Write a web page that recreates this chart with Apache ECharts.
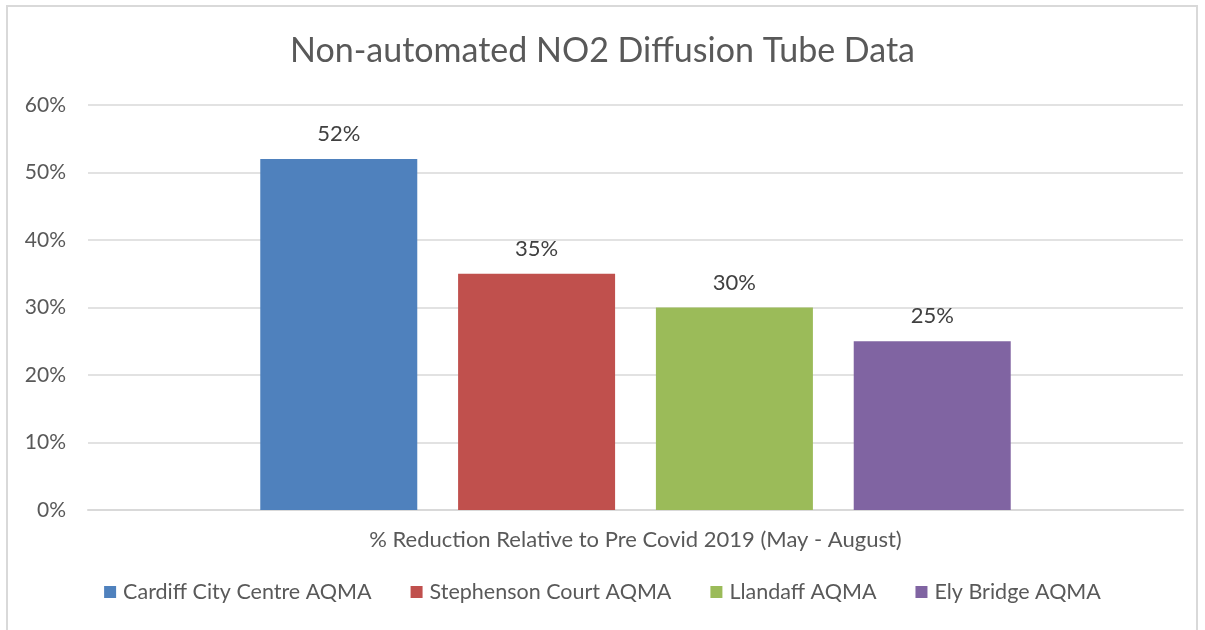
<!DOCTYPE html>
<html>
<head>
<meta charset="utf-8">
<script src="https://cdn.jsdelivr.net/npm/echarts@6/dist/echarts.min.js"></script>
<style>
  html, body { margin: 0; padding: 0; background: #fff; }
  #frame { position: absolute; left: 6px; top: 5px; width: 1192px; height: 640px; border: 2px solid #d9d9d9; box-sizing: border-box; }
  #chart { position: absolute; left: 0; top: 0; width: 1205px; height: 630px; }
</style>
</head>
<body>
<div id="frame"></div>
<div id="chart"></div>
<script>
const categories = ['% Reduction Relative to Pre Covid 2019 (May - August)'];
const seriesNames = ['Cardiff City Centre AQMA', 'Stephenson Court AQMA', 'Llandaff AQMA', 'Ely Bridge AQMA'];
const seriesValues = [52, 35, 30, 25];
const colors = ['#4f81bd', '#c0504d', '#9bbb59', '#8064a2'];

const font = 'Lato, "Open Sans", sans-serif';
const chart = echarts.init(document.getElementById('chart'));

const option = {
  backgroundColor: 'transparent',
  animation: false,
  color: colors,
  title: {
    text: 'Non-automated NO2 Diffusion Tube Data',
    left: 'center',
    top: 29,
    textStyle: { fontFamily: font, fontSize: 34, fontWeight: 'normal', color: '#595959' }
  },
  legend: {
    bottom: 22,
    left: 'center',
    itemWidth: 12,
    itemHeight: 12,
    itemGap: 39,
    icon: 'rect',
    textStyle: { fontFamily: font, fontSize: 21.5, color: '#595959', padding: [0, 0, 0, 2] },
    data: seriesNames
  },
  grid: { left: 88, right: 22, top: 105, bottom: 120 },
  xAxis: {
    type: 'category',
    data: categories,
    axisTick: { show: false },
    axisLine: { lineStyle: { color: '#d9d9d9', width: 2 } },
    axisLabel: { fontFamily: font, fontSize: 22, color: '#595959', margin: 19 }
  },
  yAxis: {
    type: 'value',
    min: 0,
    max: 60,
    interval: 10,
    axisLine: { show: false },
    axisTick: { show: false },
    splitLine: { lineStyle: { color: '#d9d9d9', width: 1.5 } },
    axisLabel: { formatter: '{value}%', fontFamily: font, fontSize: 21, color: '#595959', margin: 22 }
  },
  series: seriesNames.map((name, i) => ({
    name: name,
    type: 'bar',
    barWidth: 157,
    barGap: '26%',
    data: [seriesValues[i]],
    label: {
      show: true,
      position: 'top',
      distance: 14,
      formatter: '{c}%',
      fontFamily: font,
      fontSize: 22,
      color: '#404040'
    }
  }))
};

chart.setOption(option);
</script>
</body>
</html>
